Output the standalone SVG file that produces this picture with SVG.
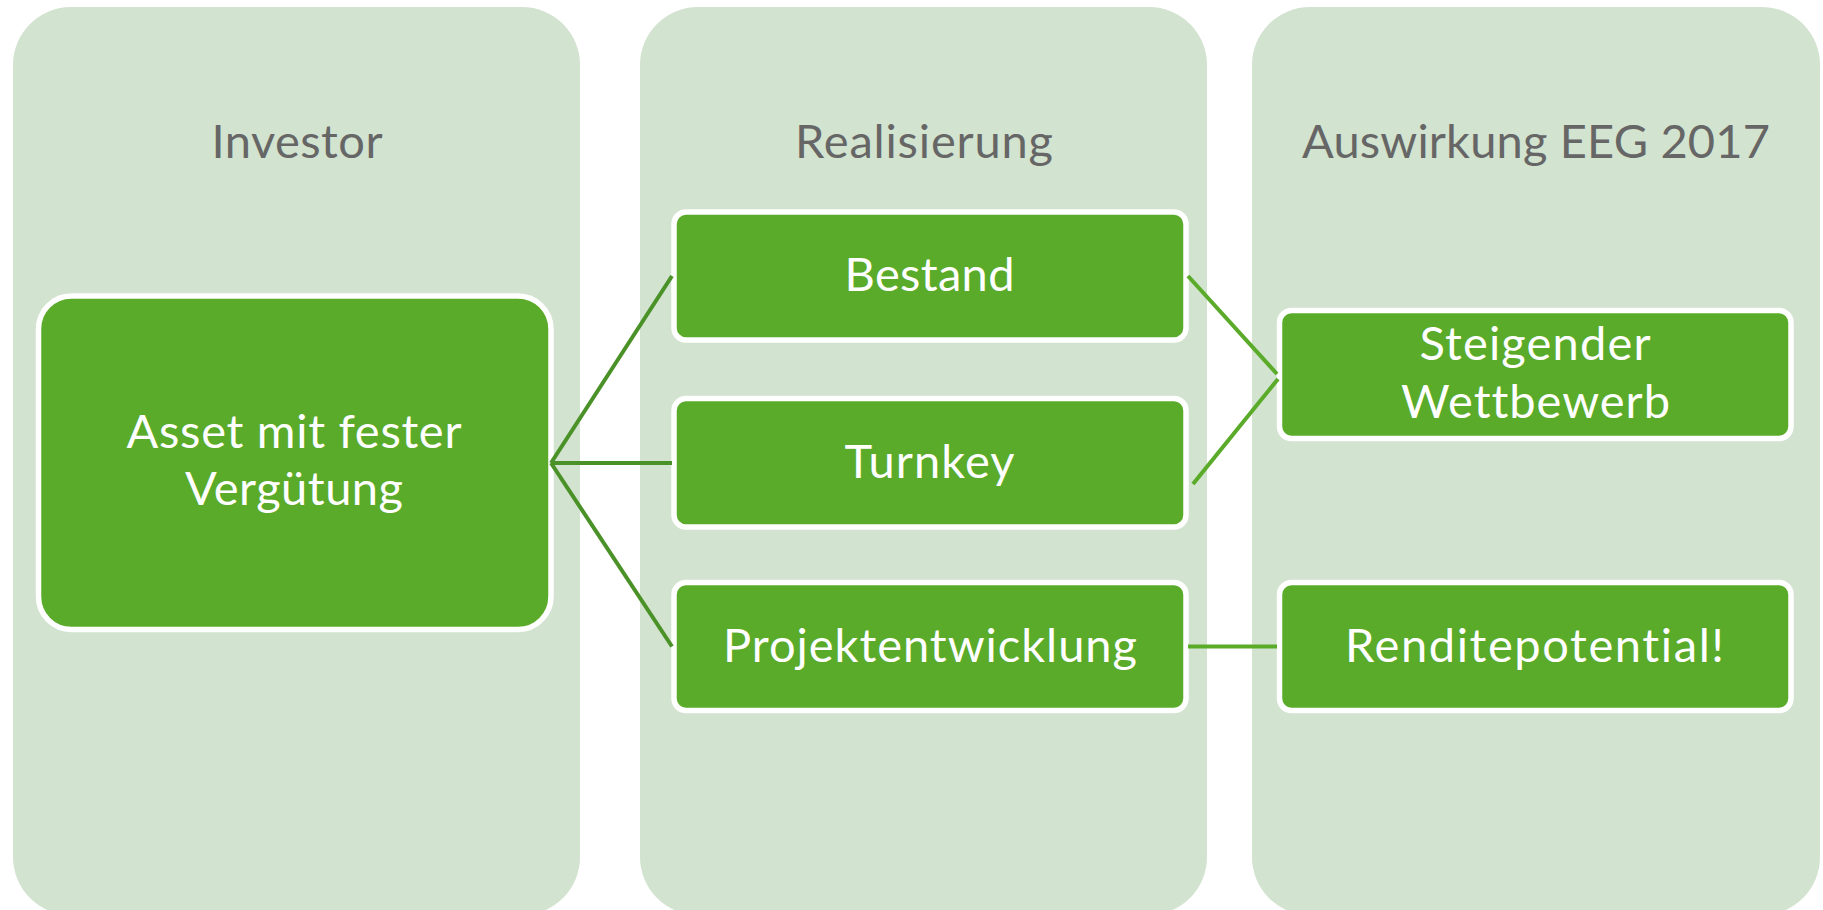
<svg xmlns="http://www.w3.org/2000/svg" width="1823" height="910" viewBox="0 0 1823 910">
  <style>
    .col { fill: #D2E3CF; }
    .node { fill: #5AAB29; stroke: #FFFFFF; stroke-width: 5.5; }
    .title { font-family: Lato, "Open Sans", sans-serif; font-size: 47px; fill: #666666; text-anchor: middle; font-variant-ligatures: none; }
    .label { font-family: Lato, "Open Sans", sans-serif; font-size: 47px; fill: #FFFFFF; text-anchor: middle; font-variant-ligatures: none; }
    .conn-l { stroke: #4A9128; stroke-width: 4; fill: none; }
    .conn-r { stroke: #5AAB29; stroke-width: 4; fill: none; }
  </style>
  <rect width="1823" height="910" fill="#FFFFFF"/>

  <g id="column-investor">
    <rect class="col" x="13" y="7" width="567" height="908" rx="58" ry="58"/>
    <text class="title" x="297" y="157.5" textLength="171">Investor</text>
  </g>
  <g id="column-realisierung">
    <rect class="col" x="640" y="7" width="567" height="908" rx="58" ry="58"/>
    <text class="title" x="924" y="157.5" textLength="258">Realisierung</text>
  </g>
  <g id="column-auswirkung">
    <rect class="col" x="1252" y="7" width="568" height="908" rx="58" ry="58"/>
    <text class="title" x="1536" y="157.5" textLength="468">Auswirkung EEG 2017</text>
  </g>

  <g id="node-asset">
    <rect class="node" x="38.5" y="296" width="512.5" height="333.5" rx="33" ry="33"/>
    <text class="label" x="294" y="447.5" textLength="335">Asset mit fester</text>
    <text class="label" x="294" y="505" textLength="218">Vergütung</text>
  </g>

  <g id="node-bestand">
    <rect class="node" x="674" y="212" width="512" height="128" rx="12" ry="12"/>
    <text class="label" x="929.5" y="290.7" textLength="170">Bestand</text>
  </g>
  <g id="node-turnkey">
    <rect class="node" x="674" y="398.5" width="512" height="128.5" rx="12" ry="12"/>
    <text class="label" x="929.5" y="477.7" textLength="170">Turnkey</text>
  </g>
  <g id="node-projektentwicklung">
    <rect class="node" x="674" y="582.5" width="512" height="128" rx="12" ry="12"/>
    <text class="label" x="930" y="661.7" textLength="414">Projektentwicklung</text>
  </g>

  <g id="node-wettbewerb">
    <rect class="node" x="1279.5" y="310.5" width="511.5" height="128" rx="12" ry="12"/>
    <text class="label" x="1535" y="360" textLength="231">Steigender</text>
    <text class="label" x="1535.5" y="418.3" textLength="269">Wettbewerb</text>
  </g>
  <g id="node-rendite">
    <rect class="node" x="1279.5" y="582.5" width="511.5" height="128" rx="12" ry="12"/>
    <text class="label" x="1534.5" y="661.7" textLength="379">Renditepotential!</text>
  </g>

  <g id="connectors">
    <line class="conn-l" x1="551" y1="463" x2="672" y2="276"/>
    <line class="conn-l" x1="551" y1="463" x2="672" y2="463"/>
    <line class="conn-l" x1="551" y1="463" x2="672" y2="646.5"/>
    <line class="conn-r" x1="1188" y1="276" x2="1277" y2="374"/>
    <line class="conn-r" x1="1193" y1="484" x2="1278" y2="379"/>
    <line class="conn-r" x1="1188" y1="646.5" x2="1277" y2="646.5"/>
  </g>
</svg>
